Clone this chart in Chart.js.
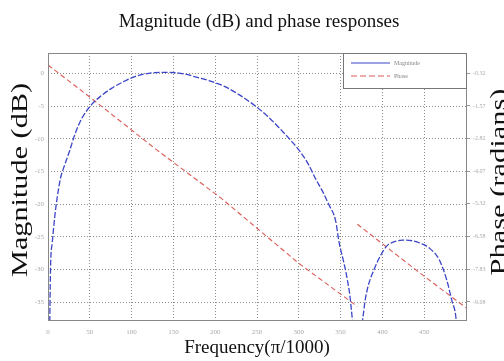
<!DOCTYPE html>
<html>
<head>
<meta charset="utf-8">
<script src="https://cdn.jsdelivr.net/npm/chart.js@4.4.1/dist/chart.umd.min.js"></script>
<style>
  html, body { margin: 0; padding: 0; background: #fff; }
  #wrap { width: 504px; height: 361px; }
</style>
</head>
<body>
<div id="wrap"><canvas id="mainChart" width="504" height="361"></canvas></div>
<script>
// magnitude response (frequency in pi/1000, dB)
const magFreq = [0.5, 3, 5, 8, 11, 15, 20, 26, 32, 40, 52, 64, 76, 90, 104, 116, 128, 140, 151, 163, 175, 192, 211, 229, 249, 263, 277, 290, 300, 311, 320, 329, 336, 344, 348, 354, 358, 362, 366, 370,
  374, 378, 382, 390, 398, 406, 415, 424, 436, 446, 456, 468, 477, 483, 488, 495];
const magDb = [-60, -30, -26, -22, -19, -16, -14, -11.8, -9.4, -7, -4.8, -3.4, -2.3, -1.3, -0.5, -0.1, 0.1, 0.15, 0.1, -0.1, -0.5, -1.1, -2.0, -3.3, -5.1, -6.6, -8.4, -10.2, -11.7, -13.8, -16.1, -18.2, -20.1, -22.5, -25.7, -29, -31.5, -35, -42, -60,
  -42, -36, -33, -30, -27.8, -26.3, -25.7, -25.5, -25.6, -26, -26.7, -28.5, -31.6, -34.7, -37.4, -50];

// phase response (radians), with the jump at the zero of the magnitude
const phaseFreq = [0, 52, 130, 207, 300, 370, 370, 370, 440, 500];
const phaseRad = [0, -1.28, -3.25, -5.1, -7.6, -9.25, null, -6.1, -7.85, -9.3];

const xTicks = [0, 50, 100, 150, 200, 250, 300, 350, 400, 450];
const magTicks = [0, -5, -10, -15, -20, -25, -30, -35];
const phaseTicks = [-0.32, -1.57, -2.82, -4.07, -5.32, -6.58, -7.83, -9.08];

const legendLabels = ["Magnitude", "Phase"];
const SERIF = "'Liberation Serif', 'DejaVu Serif', serif";
const GRID = "rgba(90,90,90,0.7)";

function stretchText(ctx, text, x, y, size, rot, stretch) {
  ctx.save();
  ctx.translate(x, y);
  ctx.rotate(rot);
  ctx.scale(stretch, 1);
  ctx.font = `${size}px ${SERIF}`;
  ctx.fillStyle = "#111";
  ctx.textAlign = "center";
  ctx.textBaseline = "middle";
  ctx.fillText(text, 0, 0);
  ctx.restore();
}

const decorPlugin = {
  id: "decor",
  afterDraw(chart) {
    const ctx = chart.ctx;
    const a = chart.chartArea;

    // frame
    ctx.save();
    ctx.strokeStyle = "#888";
    ctx.lineWidth = 1;
    ctx.strokeRect(Math.round(a.left) + 0.5, Math.round(a.top) + 0.5, Math.round(a.right - a.left), Math.round(a.bottom - a.top));
    ctx.restore();

    // titles
    stretchText(ctx, "Magnitude (dB) and phase responses", 259, 22, 19, 0, 1);
    stretchText(ctx, "Magnitude (dB)", 21, 180, 24, -Math.PI / 2, 1.26);
    stretchText(ctx, "Phase (radians)", 500, 182, 24, -Math.PI / 2, 1.27);
    stretchText(ctx, "Frequency(\u03c0/1000)", 257, 348, 19, 0, 1);

    // legend box
    const lx = 343, ly = Math.round(a.top), lw = Math.round(a.right) - 343, lh = 35;
    ctx.save();
    ctx.fillStyle = "#fff";
    ctx.fillRect(lx, ly, lw, lh);
    ctx.strokeStyle = "#777";
    ctx.strokeRect(lx + 0.5, ly + 0.5, lw, lh);
    chart.data.datasets.forEach((ds, i) => {
      const yy = ly + 10 + i * 13;
      ctx.strokeStyle = ds.borderColor;
      ctx.lineWidth = 1.2;
      ctx.setLineDash(i === 0 ? [] : [6, 3]);
      ctx.beginPath();
      ctx.moveTo(351, yy);
      ctx.lineTo(390, yy);
      ctx.stroke();
      ctx.setLineDash([]);
      ctx.fillStyle = "#888";
      ctx.font = `6px ${SERIF}`;
      ctx.textBaseline = "middle";
      ctx.fillText(legendLabels[i], 394, yy);
    });
    ctx.restore();
  },
};

function initChart() {
  const ctx = document.getElementById("mainChart").getContext("2d");
  new Chart(ctx, {
    type: "line",
    data: {
      datasets: [
        {
          label: legendLabels[0],
          data: magFreq.map((f, i) => ({ x: f, y: magDb[i] })),
          yAxisID: "y",
          borderColor: "#3b45c8",
          borderWidth: 1.3,
          borderDash: [6, 2],
          pointRadius: 0,
          cubicInterpolationMode: "monotone",
          fill: false,
        },
        {
          label: legendLabels[1],
          data: phaseFreq.map((f, i) => ({ x: f, y: phaseRad[i] })),
          yAxisID: "y1",
          borderColor: "#dc5a55",
          borderWidth: 1.1,
          borderDash: [5, 3],
          pointRadius: 0,
          spanGaps: false,
          fill: false,
        },
      ],
    },
    options: {
      responsive: false,
      animation: false,
      layout: { padding: { top: 53, left: 0, right: 0, bottom: 0 } },
      plugins: { legend: { display: false }, title: { display: false }, tooltip: { enabled: false } },
      scales: {
        x: {
          type: "linear",
          min: 0,
          max: 500,
          afterBuildTicks: (s) => { s.ticks = xTicks.map((v) => ({ value: v })); },
          afterFit: (s) => { s.height = 41; },
          grid: { color: GRID, drawTicks: false },
          border: { display: false, dash: [1, 2] },
          ticks: { padding: 8, color: "#aaa", font: { size: 7, family: SERIF }, maxRotation: 0 },
        },
        y: {
          position: "left",
          min: -37.7,
          max: 3.1,
          afterBuildTicks: (s) => { s.ticks = magTicks.map((v) => ({ value: v })); },
          afterFit: (s) => { s.width = 48; },
          grid: { color: GRID, drawTicks: false },
          border: { display: false, dash: [1, 2] },
          ticks: { padding: 4, color: "#aaa", font: { size: 7, family: SERIF } },
        },
        y1: {
          position: "right",
          min: -9.77,
          max: 0.46,
          afterBuildTicks: (s) => { s.ticks = phaseTicks.map((v) => ({ value: v })); },
          afterFit: (s) => { s.width = 38; },
          grid: { drawOnChartArea: false, drawTicks: true, tickLength: 4, color: "#999" },
          border: { display: false },
          ticks: { padding: 3, color: "#aaa", font: { size: 6, family: SERIF }, callback: (v) => v.toFixed(2) },
        },
      },
    },
    plugins: [decorPlugin],
  });
}

initChart();
</script>
</body>
</html>
